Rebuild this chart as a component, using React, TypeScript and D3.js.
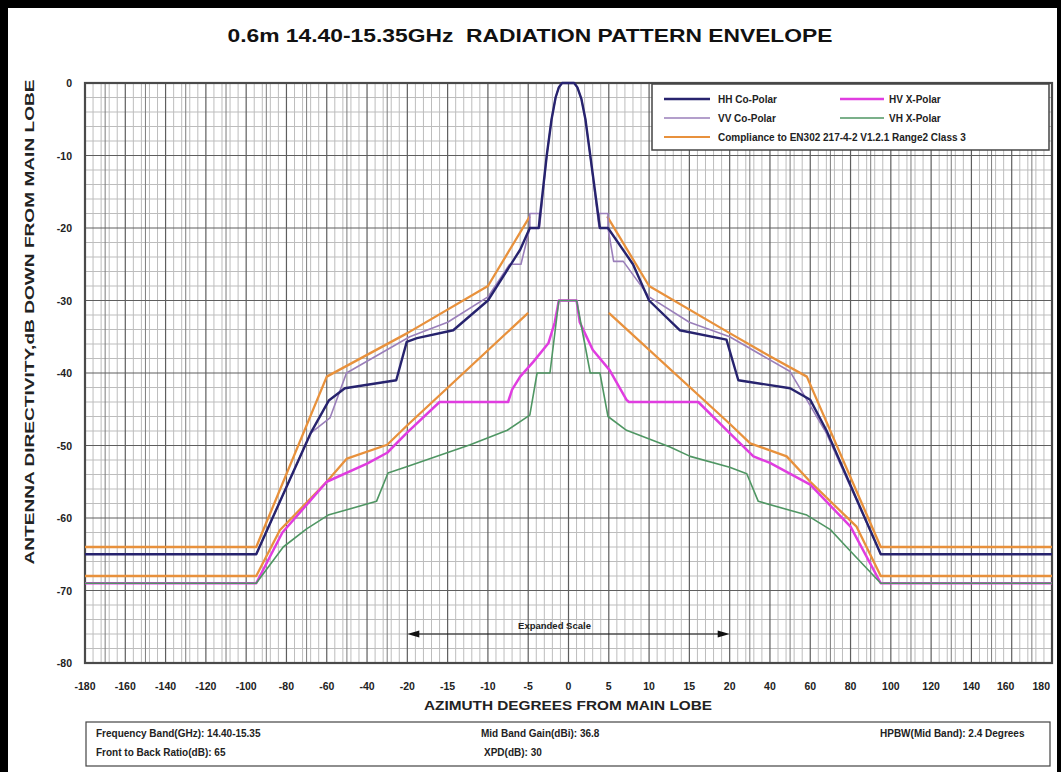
import * as d3 from "d3";

type Pt = [number, number];

// axis ticks (the x axis is piecewise: expanded between -20 and 20)
const xTickValues = [
  -180, -160, -140, -120, -100, -80, -60, -40, -20, -15, -10, -5, 0, 5, 10, 15,
  20, 40, 60, 80, 100, 120, 140, 160, 180,
];
const yTickValues = [0, -10, -20, -30, -40, -50, -60, -70, -80];

// series: [azimuth deg, dB]
const hhCoPolar: Pt[] = [
  [-180, -65], [-95, -65], [-68, -48.3], [-59, -43.8], [-51, -42.1], [-25.5, -41],
  [-20.3, -35.7], [-18.8, -35.2], [-14.3, -34.1], [-10, -30], [-6, -23], [-4.8, -20],
  [-3.7, -20], [-2.7, -10], [-2.1, -5], [-1.6, -2], [-1.2, -0.6], [-0.8, 0], [0.7, 0],
  [1.1, -0.6], [1.6, -2.2], [2.1, -5], [2.7, -10], [3.9, -20], [4.9, -20], [8, -25],
  [10, -30], [13.8, -34.1], [19.6, -35.4], [24.3, -41], [50, -42.1], [60, -43.7],
  [68, -47.9], [95, -65], [180, -65],
];

const vvCoPolar: Pt[] = [
  [-180, -65], [-95, -65], [-68, -48.3], [-58.4, -46.2], [-50.2, -40], [-19.7, -35],
  [-15, -33], [-10, -29.5], [-7.3, -25], [-5.9, -25], [-4.8, -20], [-4.8, -18],
  [-3.6, -18], [-3.6, -20], [-2.7, -10], [-2.1, -5], [-1.6, -2], [-1.2, -0.6],
  [-0.8, 0], [0.7, 0], [1.1, -0.6], [1.6, -2.2], [2.1, -5], [2.7, -10], [3.8, -20],
  [3.8, -18], [4.9, -18], [4.9, -20], [5.6, -24.6], [6.8, -24.6], [10, -29.5],
  [15, -33], [20, -35], [50, -39.8], [58.3, -43.7], [68, -48.3], [95, -65], [180, -65],
];

const hvXPolar: Pt[] = [
  [-180, -69], [-95, -69], [-82, -62], [-60, -55], [-40, -52.5], [-30, -51],
  [-20, -48.2], [-16, -44], [-7.5, -44], [-7, -42.3], [-6, -40.5], [-4.4, -38.5],
  [-2.5, -35.9], [-1.7, -33], [-1.2, -30], [1, -30], [1.4, -33], [3, -36.8],
  [5.1, -39.6], [7.2, -43.7], [7.5, -44], [16.1, -44], [20, -48.3], [31.8, -51.5],
  [40, -52.4], [60, -55.4], [80, -61.2], [95, -69], [180, -69],
];

const vhXPolar: Pt[] = [
  [-180, -69], [-95, -69], [-81.6, -64], [-70, -61.5], [-59.3, -59.6], [-35.3, -57.7],
  [-29.6, -53.8], [-20, -52.9], [-12.2, -49.9], [-7.6, -47.9], [-4.8, -45.8],
  [-3.9, -40], [-2.3, -40], [-1.2, -30], [1, -30], [2.7, -40], [3.9, -40],
  [4.9, -46], [7.2, -47.9], [12.6, -50.2], [15.1, -51.5], [20, -53], [28.5, -53.9],
  [34.2, -57.7], [58.3, -59.6], [70, -61.6], [78, -64], [95, -69], [180, -69],
];

// compliance masks (null = gap round the main lobe)
const maskUpper: (Pt | null)[] = [
  [-180, -64], [-95, -64], [-60, -40.5], [-40, -37.5], [-20, -34.5], [-10, -28],
  [-4.8, -18.4], null, [4.8, -18.4], [10, -28], [20, -34.5], [40, -37.7],
  [58.3, -40.5], [95, -64], [180, -64],
];

const maskLower: (Pt | null)[] = [
  [-180, -68], [-95, -68], [-83.3, -61.7], [-60, -55], [-50, -51.8], [-30, -49.9],
  [-20, -47.2], [-5, -31.7], null, [5, -31.7], [20, -47], [30.2, -49.7],
  [48.3, -51.5], [60, -55], [83, -61.2], [95, -68], [180, -68],
];

const colors = {
  hh: "#27236e",
  vv: "#9a7fba",
  hv: "#e03de0",
  vh: "#4f9663",
  mask: "#e8913c",
};

const legendCol1 = [
  { label: "HH Co-Polar", color: colors.hh, width: 2.4 },
  { label: "VV Co-Polar", color: colors.vv, width: 1.6 },
  { label: "Compliance to EN302 217-4-2 V1.2.1 Range2 Class 3", color: colors.mask, width: 2.2 },
];
const legendCol2 = [
  { label: "HV X-Polar", color: colors.hv, width: 2.4 },
  { label: "VH X-Polar", color: colors.vh, width: 1.6 },
];

const infoRow1 = ["Frequency Band(GHz): 14.40-15.35", "Mid Band Gain(dBi): 36.8", "HPBW(Mid Band): 2.4 Degrees"];
const infoRow2 = ["Front to Back Ratio(dB): 65", "XPD(dB): 30"];

const title = "0.6m 14.40-15.35GHz  RADIATION PATTERN ENVELOPE";
const xTitle = "AZIMUTH DEGREES FROM MAIN LOBE";
const yTitle = "ANTENNA DIRECTIVITY,dB DOWN FROM MAIN LOBE";

const W = 1061;
const H = 772;
const plot = { left: 85, right: 1052, top: 83, bottom: 663 };
const FONT = "'Liberation Sans', Arial, sans-serif";

export default function App() {
  const step = (plot.right - plot.left) / (xTickValues.length - 1);
  const x = d3
    .scaleLinear()
    .domain(xTickValues)
    .range(xTickValues.map((_, i) => plot.left + i * step));
  const y = d3.scaleLinear().domain([-80, 0]).range([plot.bottom, plot.top]);

  // vertical grid: 20-degree segments split every 4 deg (+ darker 10 deg), 5-degree segments every 1 deg
  const vMinor: number[] = [];
  const vMid: number[] = [];
  for (let i = 0; i < xTickValues.length - 1; i++) {
    const a = xTickValues[i];
    const b = xTickValues[i + 1];
    if (b - a === 20) {
      for (let k = 1; k < 5; k++) vMinor.push(a + k * 4);
      vMid.push(a + 10);
    } else {
      for (let k = 1; k < 5; k++) vMinor.push(a + k);
    }
  }
  const hMinor = d3.range(-80, 0, 2).filter((v) => v % 10 !== 0);

  const line = d3
    .line<Pt | null>()
    .defined((d) => d !== null)
    .x((d) => x(d![0]))
    .y((d) => y(d![1]));

  const arrowY = y(-76);

  return (
    <svg
      width={W}
      height={H}
      style={{ position: "absolute", left: 0, top: 0, display: "block" }}
      fontFamily={FONT}
    >
      <rect width={W} height={H} fill="#000" />
      <rect x={8} y={8} width={1049} height={H - 8} fill="#fff" />

      <text
        x={530}
        y={42}
        textAnchor="middle"
        fontSize={18}
        fontWeight="bold"
        textLength={605}
        lengthAdjust="spacingAndGlyphs"
        fill="#111"
        style={{ whiteSpace: "pre" }}
      >
        {title}
      </text>

      {/* grid */}
      <g>
        {hMinor.map((v) => (
          <line key={"hm" + v} x1={plot.left} x2={plot.right} y1={y(v)} y2={y(v)} stroke="#bdbdbd" strokeWidth={1} />
        ))}
        {vMinor.map((v, i) => (
          <line key={"vm" + i} x1={x(v)} x2={x(v)} y1={plot.top} y2={plot.bottom} stroke="#bdbdbd" strokeWidth={1} />
        ))}
        {vMid.map((v, i) => (
          <line key={"vd" + i} x1={x(v)} x2={x(v)} y1={plot.top} y2={plot.bottom} stroke="#7c7c7c" strokeWidth={1} />
        ))}
        {xTickValues.map((v) => (
          <line key={"vx" + v} x1={x(v)} x2={x(v)} y1={plot.top} y2={plot.bottom} stroke="#5e5e5e" strokeWidth={1.2} />
        ))}
        {yTickValues.map((v) => (
          <line key={"hy" + v} x1={plot.left} x2={plot.right} y1={y(v)} y2={y(v)} stroke="#5e5e5e" strokeWidth={1.2} />
        ))}
        <rect
          x={plot.left}
          y={plot.top}
          width={plot.right - plot.left}
          height={plot.bottom - plot.top}
          fill="none"
          stroke="#4a4a4a"
          strokeWidth={2.2}
        />
      </g>

      {/* series */}
      <g fill="none" strokeLinejoin="round">
        <path d={line(maskUpper) || ""} stroke={colors.mask} strokeWidth={2.3} />
        <path d={line(maskLower) || ""} stroke={colors.mask} strokeWidth={2.3} />
        <path d={line(hvXPolar) || ""} stroke={colors.hv} strokeWidth={2.5} />
        <path d={line(vhXPolar) || ""} stroke={colors.vh} strokeWidth={1.6} />
        <path d={line(vvCoPolar) || ""} stroke={colors.vv} strokeWidth={1.6} />
        <path d={line(hhCoPolar) || ""} stroke={colors.hh} strokeWidth={2.4} />
      </g>

      {/* legend */}
      <g>
        <rect x={652} y={84} width={397} height={66} fill="#fff" stroke="#444" strokeWidth={1.5} />
        {legendCol1.map((d, i) => (
          <g key={d.label} transform={`translate(664,${99 + i * 19})`}>
            <line x1={0} x2={46} stroke={d.color} strokeWidth={d.width} />
            <text x={54} y={3.5} fontSize={10} fontWeight="bold" fill="#222">
              {d.label}
            </text>
          </g>
        ))}
        {legendCol2.map((d, i) => (
          <g key={d.label} transform={`translate(840,${99 + i * 19})`}>
            <line x1={0} x2={44} stroke={d.color} strokeWidth={d.width} />
            <text x={49} y={3.5} fontSize={10} fontWeight="bold" fill="#222">
              {d.label}
            </text>
          </g>
        ))}
      </g>

      {/* expanded scale arrow */}
      <g>
        <line x1={x(-20) + 10} x2={x(20) - 10} y1={arrowY} y2={arrowY} stroke="#111" strokeWidth={1.2} />
        <path d={`M${x(-20)},${arrowY} l12,-3.5 l0,7 z`} fill="#111" />
        <path d={`M${x(20)},${arrowY} l-12,-3.5 l0,7 z`} fill="#111" />
        <text x={x(0) - 14} y={arrowY - 5} textAnchor="middle" fontSize={9.5} fontWeight="bold" fill="#222">
          Expanded Scale
        </text>
      </g>

      {/* axes labels */}
      <g fontWeight="bold" fontSize={10.5} fill="#222">
        {yTickValues.map((v) => (
          <text key={"yl" + v} x={72} y={y(v) + 4} textAnchor="end">
            {v}
          </text>
        ))}
        {xTickValues.map((v, i) => (
          <text
            key={"xl" + v}
            x={i === xTickValues.length - 1 ? x(v) - 2 : i === xTickValues.length - 2 ? x(v) - 6 : x(v)}
            y={690}
            textAnchor={i === xTickValues.length - 1 ? "end" : "middle"}
          >
            {v}
          </text>
        ))}
      </g>
      <text
        x={568}
        y={710}
        textAnchor="middle"
        fontSize={13}
        fontWeight="bold"
        textLength={288}
        lengthAdjust="spacingAndGlyphs"
        fill="#222"
      >
        {xTitle}
      </text>
      <text
        transform="translate(34,322) rotate(-90)"
        textAnchor="middle"
        fontSize={12}
        fontWeight="bold"
        textLength={485}
        lengthAdjust="spacingAndGlyphs"
        fill="#222"
      >
        {yTitle}
      </text>

      {/* info box */}
      <g fontSize={10} fontWeight="bold" fill="#222">
        <rect x={86} y={722} width={964} height={44} fill="#fff" stroke="#444" strokeWidth={1.2} />
        <text x={96} y={737}>{infoRow1[0]}</text>
        <text x={481} y={737}>{infoRow1[1]}</text>
        <text x={880} y={737}>{infoRow1[2]}</text>
        <text x={96} y={756}>{infoRow2[0]}</text>
        <text x={484} y={756}>{infoRow2[1]}</text>
      </g>
    </svg>
  );
}
